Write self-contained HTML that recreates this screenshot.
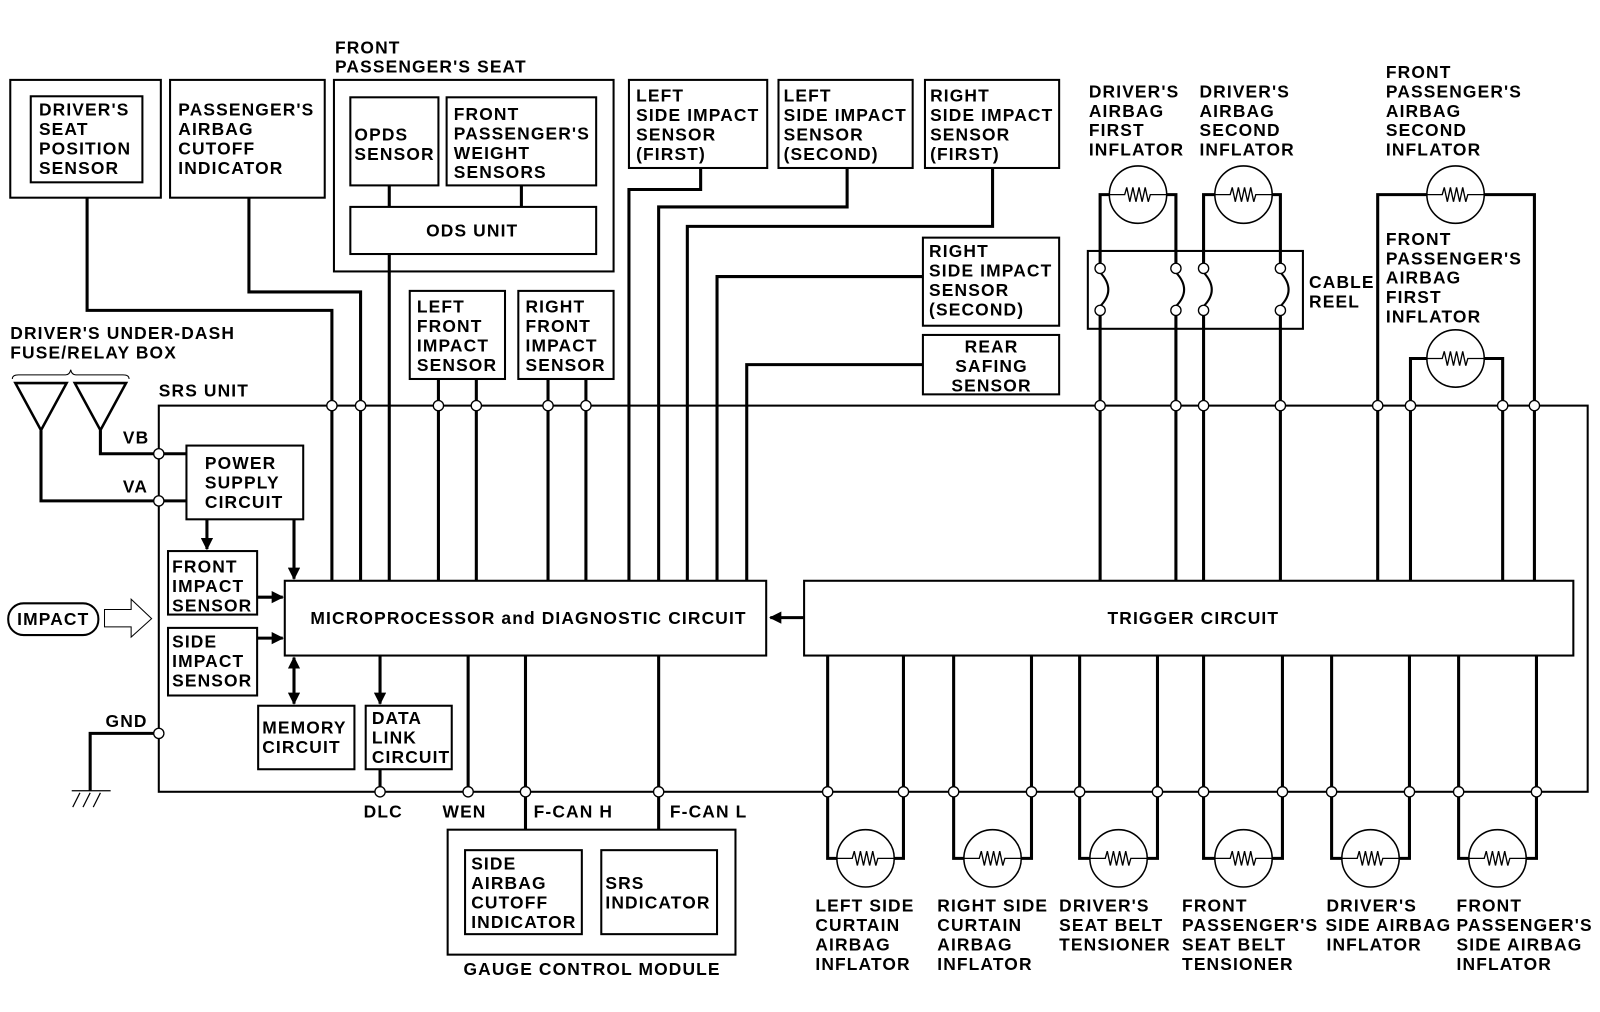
<!DOCTYPE html>
<html><head><meta charset="utf-8"><style>
html,body{margin:0;padding:0;background:#fff;}
svg{display:block;}
text{font-family:"Liberation Sans",sans-serif;font-size:17px;font-weight:bold;letter-spacing:1.1px;fill:#000;}
</style></head><body>
<svg width="1600" height="1012" viewBox="0 0 1562 988" xmlns="http://www.w3.org/2000/svg">
<defs>
<marker id="ah" viewBox="0 0 10 10" refX="9" refY="5" markerWidth="4" markerHeight="4" orient="auto"><path d="M0,0 L10,5 L0,10 z" fill="#000"/></marker>
<marker id="ahs" viewBox="0 0 10 10" refX="9" refY="5" markerWidth="4" markerHeight="4" orient="auto-start-reverse"><path d="M0,0 L10,5 L0,10 z" fill="#000"/></marker>
<path id="r" d="M-28,0 L-13,0 l2,-7 l3,14 l3,-14 l3,14 l3,-14 l3,14 l3,-14 l3,14 l2,-7 L28,0"/>
</defs>
<g fill="none" stroke="#000" stroke-width="2">
<rect x="10" y="78" width="147" height="115"/>
<rect x="30" y="94" width="109" height="84"/>
<rect x="166" y="78" width="151" height="115"/>
<rect x="326" y="78" width="273" height="187"/>
<rect x="342" y="95" width="86" height="86"/>
<rect x="436" y="95" width="146" height="86"/>
<rect x="342" y="202" width="240" height="46"/>
<rect x="614" y="78" width="135" height="86"/>
<rect x="760" y="78" width="131" height="86"/>
<rect x="903" y="78" width="131" height="86"/>
<rect x="901" y="232" width="133" height="86"/>
<rect x="901" y="327" width="133" height="58"/>
<rect x="400" y="284" width="93" height="86"/>
<rect x="506" y="284" width="93" height="86"/>
<rect x="1062" y="245" width="210" height="76"/>
<rect x="155" y="396" width="1395" height="377"/>
<rect x="182" y="435" width="114" height="72"/>
<rect x="164" y="538" width="87" height="62"/>
<rect x="164" y="613" width="87" height="66"/>
<rect x="278" y="567" width="470" height="73"/>
<rect x="785" y="567" width="751" height="73"/>
<rect x="252" y="689" width="94" height="62"/>
<rect x="357" y="689" width="84" height="62"/>
<rect x="437" y="810" width="281" height="122"/>
<rect x="454" y="830" width="114" height="82"/>
<rect x="587" y="830" width="113" height="82"/>
<rect x="8" y="589" width="88" height="31" rx="15"/>
</g>
<path d="M102,595 L128,595 L128,585 L148,604 L128,622 L128,612 L102,612 z" fill="#fff" stroke="#000" stroke-width="1"/>
<g fill="none" stroke="#000" stroke-width="3">
<path d="M15,374 L65,374 L40,420 z" stroke-width="2.5"/>
<path d="M73,374 L123,374 L98,420 z" stroke-width="2.5"/>
<path d="M98,420 L98,443 L182,443"/>
<path d="M40,420 L40,489 L182,489"/>
<path d="M155,716 L88,716 L88,772"/>
</g>
<path d="M12,370 Q12,366 18,366 L64,366 Q68,366 69,361 Q70,366 74,366 L120,366 Q126,366 126,370" fill="none" stroke="#000" stroke-width="1"/>
<g stroke="#000" stroke-width="1.2"><line x1="70" y1="772" x2="108" y2="772"/><line x1="78" y1="774" x2="71" y2="788"/><line x1="88" y1="774" x2="81" y2="788"/><line x1="98" y1="774" x2="91" y2="788"/></g>
<g fill="none" stroke="#000" stroke-width="3">
<path d="M85,193 L85,303 L324,303 L324,567"/>
<path d="M243,193 L243,285 L352,285 L352,567"/>
<path d="M380,181 L380,202"/><path d="M509,181 L509,202"/>
<path d="M380,248 L380,567"/>
<path d="M428,370 L428,567"/><path d="M465,370 L465,567"/>
<path d="M535,370 L535,567"/><path d="M572,370 L572,567"/>
<path d="M684,164 L684,185 L614,185 L614,567"/>
<path d="M827,164 L827,202 L643,202 L643,567"/>
<path d="M969,164 L969,221 L671,221 L671,567"/>
<path d="M901,270 L700,270 L700,567"/>
<path d="M901,356 L729,356 L729,567"/>
<path d="M202,507 L202,536" marker-end="url(#ah)"/>
<path d="M287,507 L287,565" marker-end="url(#ah)"/>
<path d="M251,583 L276,583" marker-end="url(#ah)"/>
<path d="M251,623 L276,623" marker-end="url(#ah)"/>
<path d="M287,642 L287,687" marker-start="url(#ahs)" marker-end="url(#ah)"/>
<path d="M371,640 L371,687" marker-end="url(#ah)"/>
<path d="M785,603 L752,603" marker-end="url(#ah)"/>
<path d="M371,751 L371,773"/>
<path d="M457,640 L457,773"/>
<path d="M513,640 L513,810"/>
<path d="M643,640 L643,810"/>
<path d="M1074,567 L1074,308 M1074,257 L1074,190 L1148,190 L1148,257 M1148,308 L1148,567"/>
<path d="M1175,567 L1175,308 M1175,257 L1175,190 L1250,190 L1250,257 M1250,308 L1250,567"/>
<path d="M1345,567 L1345,190 L1498,190 L1498,567"/>
<path d="M1377,567 L1377,350 L1467,350 L1467,567"/>
<path d="M808,640 L808,838 L882,838 L882,640"/>
<path d="M931,640 L931,838 L1007,838 L1007,640"/>
<path d="M1054,640 L1054,838 L1130,838 L1130,640"/>
<path d="M1175,640 L1175,838 L1252,838 L1252,640"/>
<path d="M1300,640 L1300,838 L1376,838 L1376,640"/>
<path d="M1424,640 L1424,838 L1500,838 L1500,640"/>
</g>
<g fill="none" stroke="#000" stroke-width="2">
<path d="M1074,266 Q1090,283 1074,299"/><path d="M1148,266 Q1164,283 1148,299"/>
<path d="M1175,266 Q1191,283 1175,299"/><path d="M1250,266 Q1266,283 1250,299"/>
</g>
<g fill="#fff" stroke="#000" stroke-width="1.5">
<circle cx="1111" cy="190" r="28"/><circle cx="1214" cy="190" r="28"/>
<circle cx="1421" cy="190" r="28"/><circle cx="1421" cy="350" r="28"/>
<circle cx="845" cy="838" r="28"/><circle cx="969" cy="838" r="28"/>
<circle cx="1092" cy="838" r="28"/><circle cx="1214" cy="838" r="28"/>
<circle cx="1338" cy="838" r="28"/><circle cx="1462" cy="838" r="28"/>
</g>
<g fill="none" stroke="#000" stroke-width="1.3">
<use href="#r" x="1111" y="190"/><use href="#r" x="1214" y="190"/>
<use href="#r" x="1421" y="190"/><use href="#r" x="1421" y="350"/>
<use href="#r" x="845" y="838"/><use href="#r" x="969" y="838"/>
<use href="#r" x="1092" y="838"/><use href="#r" x="1214" y="838"/>
<use href="#r" x="1338" y="838"/><use href="#r" x="1462" y="838"/>
</g>
<g fill="#fff" stroke="#000" stroke-width="1.3">
<circle cx="324" cy="396" r="5"/><circle cx="352" cy="396" r="5"/><circle cx="428" cy="396" r="5"/><circle cx="465" cy="396" r="5"/>
<circle cx="535" cy="396" r="5"/><circle cx="572" cy="396" r="5"/><circle cx="1074" cy="396" r="5"/><circle cx="1148" cy="396" r="5"/>
<circle cx="1175" cy="396" r="5"/><circle cx="1250" cy="396" r="5"/><circle cx="1345" cy="396" r="5"/><circle cx="1377" cy="396" r="5"/>
<circle cx="1467" cy="396" r="5"/><circle cx="1498" cy="396" r="5"/>
<circle cx="371" cy="773" r="5"/><circle cx="457" cy="773" r="5"/><circle cx="513" cy="773" r="5"/><circle cx="643" cy="773" r="5"/>
<circle cx="808" cy="773" r="5"/><circle cx="882" cy="773" r="5"/><circle cx="931" cy="773" r="5"/><circle cx="1007" cy="773" r="5"/>
<circle cx="1054" cy="773" r="5"/><circle cx="1130" cy="773" r="5"/><circle cx="1175" cy="773" r="5"/><circle cx="1252" cy="773" r="5"/>
<circle cx="1300" cy="773" r="5"/><circle cx="1376" cy="773" r="5"/><circle cx="1424" cy="773" r="5"/><circle cx="1500" cy="773" r="5"/>
<circle cx="155" cy="443" r="5"/><circle cx="155" cy="489" r="5"/><circle cx="155" cy="716" r="5"/>
<circle cx="1074" cy="262" r="5"/><circle cx="1074" cy="303" r="5"/><circle cx="1148" cy="262" r="5"/><circle cx="1148" cy="303" r="5"/>
<circle cx="1175" cy="262" r="5"/><circle cx="1175" cy="303" r="5"/><circle cx="1250" cy="262" r="5"/><circle cx="1250" cy="303" r="5"/>
</g>
<text x="38" y="113">DRIVER'S</text><text x="38" y="132">SEAT</text><text x="38" y="151">POSITION</text><text x="38" y="170">SENSOR</text>
<text x="174" y="113">PASSENGER'S</text><text x="174" y="132">AIRBAG</text><text x="174" y="151">CUTOFF</text><text x="174" y="170">INDICATOR</text>
<text x="327" y="52">FRONT</text><text x="327" y="71">PASSENGER'S SEAT</text>
<text x="346" y="137">OPDS</text><text x="346" y="156">SENSOR</text>
<text x="443" y="117">FRONT</text><text x="443" y="136">PASSENGER'S</text><text x="443" y="155">WEIGHT</text><text x="443" y="174">SENSORS</text>
<text x="461" y="231" text-anchor="middle">ODS UNIT</text>
<text x="621" y="99">LEFT</text><text x="621" y="118">SIDE IMPACT</text><text x="621" y="137">SENSOR</text><text x="621" y="156">(FIRST)</text>
<text x="765" y="99">LEFT</text><text x="765" y="118">SIDE IMPACT</text><text x="765" y="137">SENSOR</text><text x="765" y="156">(SECOND)</text>
<text x="908" y="99">RIGHT</text><text x="908" y="118">SIDE IMPACT</text><text x="908" y="137">SENSOR</text><text x="908" y="156">(FIRST)</text>
<text x="907" y="251">RIGHT</text><text x="907" y="270">SIDE IMPACT</text><text x="907" y="289">SENSOR</text><text x="907" y="308">(SECOND)</text>
<text x="968" y="344" text-anchor="middle">REAR</text><text x="968" y="363" text-anchor="middle">SAFING</text><text x="968" y="382" text-anchor="middle">SENSOR</text>
<text x="407" y="305">LEFT</text><text x="407" y="324">FRONT</text><text x="407" y="343">IMPACT</text><text x="407" y="362">SENSOR</text>
<text x="513" y="305">RIGHT</text><text x="513" y="324">FRONT</text><text x="513" y="343">IMPACT</text><text x="513" y="362">SENSOR</text>
<text x="1063" y="95">DRIVER'S</text><text x="1063" y="114">AIRBAG</text><text x="1063" y="133">FIRST</text><text x="1063" y="152">INFLATOR</text>
<text x="1171" y="95">DRIVER'S</text><text x="1171" y="114">AIRBAG</text><text x="1171" y="133">SECOND</text><text x="1171" y="152">INFLATOR</text>
<text x="1353" y="76">FRONT</text><text x="1353" y="95">PASSENGER'S</text><text x="1353" y="114">AIRBAG</text><text x="1353" y="133">SECOND</text><text x="1353" y="152">INFLATOR</text>
<text x="1353" y="239">FRONT</text><text x="1353" y="258">PASSENGER'S</text><text x="1353" y="277">AIRBAG</text><text x="1353" y="296">FIRST</text><text x="1353" y="315">INFLATOR</text>
<text x="1278" y="281">CABLE</text><text x="1278" y="300">REEL</text>
<text x="10" y="331">DRIVER'S UNDER-DASH</text><text x="10" y="350">FUSE/RELAY BOX</text>
<text x="155" y="387">SRS UNIT</text>
<text x="120" y="433">VB</text><text x="120" y="481">VA</text><text x="103" y="710">GND</text>
<text x="200" y="458">POWER</text><text x="200" y="477">SUPPLY</text><text x="200" y="496">CIRCUIT</text>
<text x="168" y="559">FRONT</text><text x="168" y="578">IMPACT</text><text x="168" y="597">SENSOR</text>
<text x="168" y="632">SIDE</text><text x="168" y="651">IMPACT</text><text x="168" y="670">SENSOR</text>
<text x="52" y="610" text-anchor="middle">IMPACT</text>
<text x="516" y="609" text-anchor="middle">MICROPROCESSOR and DIAGNOSTIC CIRCUIT</text>
<text x="1165" y="609" text-anchor="middle">TRIGGER CIRCUIT</text>
<text x="256" y="716">MEMORY</text><text x="256" y="735">CIRCUIT</text>
<text x="363" y="707">DATA</text><text x="363" y="726">LINK</text><text x="363" y="745">CIRCUIT</text>
<text x="355" y="798">DLC</text><text x="432" y="798">WEN</text><text x="521" y="798">F-CAN H</text><text x="654" y="798">F-CAN L</text>
<text x="460" y="849">SIDE</text><text x="460" y="868">AIRBAG</text><text x="460" y="887">CUTOFF</text><text x="460" y="906">INDICATOR</text>
<text x="591" y="868">SRS</text><text x="591" y="887">INDICATOR</text>
<text x="578" y="952" text-anchor="middle">GAUGE CONTROL MODULE</text>
<text x="796" y="890">LEFT SIDE</text><text x="796" y="909">CURTAIN</text><text x="796" y="928">AIRBAG</text><text x="796" y="947">INFLATOR</text>
<text x="915" y="890">RIGHT SIDE</text><text x="915" y="909">CURTAIN</text><text x="915" y="928">AIRBAG</text><text x="915" y="947">INFLATOR</text>
<text x="1034" y="890">DRIVER'S</text><text x="1034" y="909">SEAT BELT</text><text x="1034" y="928">TENSIONER</text>
<text x="1154" y="890">FRONT</text><text x="1154" y="909">PASSENGER'S</text><text x="1154" y="928">SEAT BELT</text><text x="1154" y="947">TENSIONER</text>
<text x="1295" y="890">DRIVER'S</text><text x="1294" y="909">SIDE AIRBAG</text><text x="1295" y="928">INFLATOR</text>
<text x="1422" y="890">FRONT</text><text x="1422" y="909">PASSENGER'S</text><text x="1422" y="928">SIDE AIRBAG</text><text x="1422" y="947">INFLATOR</text>
</svg>
</body></html>
